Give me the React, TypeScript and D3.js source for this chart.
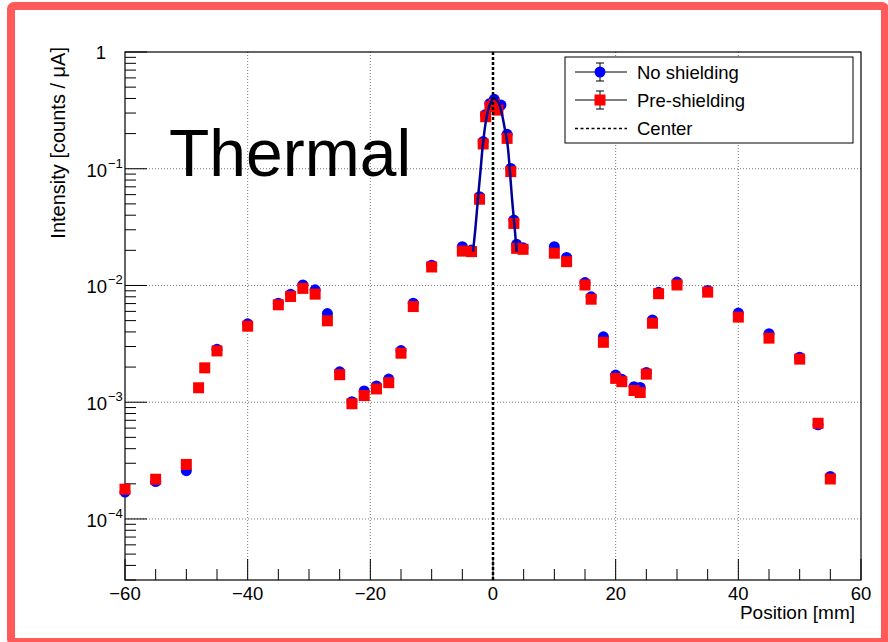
import React, { useEffect, useRef } from 'react';
import * as d3 from 'd3';

// No shielding (blue circles)
const noShieldX = [-60, -55, -50, -45, -40, -35, -33, -31, -29, -27,
  -25, -23, -21, -19, -17, -15, -13, -10, -5, -3.5,
  -2.2, -1.6, -1.2, -0.5, 0.2, 1.3, 2.3, 2.9, 3.4, 3.85,
  4.9, 10, 12, 15, 16, 18, 20, 21, 23, 24,
  25, 26, 27, 30, 35, 40, 45, 50, 53, 55];
const noShieldY = [1.70e-4, 2.09e-4, 2.59e-4, 2.84e-3, 4.69e-3, 7.05e-3, 8.43e-3, 1.01e-2, 9.18e-3, 5.75e-3,
  1.82e-3, 1.01e-3, 1.25e-3, 1.38e-3, 1.58e-3, 2.77e-3, 7.05e-3, 1.49e-2, 2.15e-2, 2.01e-2,
  5.76e-2, 0.171, 0.292, 0.363, 0.393, 0.351, 0.197, 0.1007, 0.0363, 0.0225,
  0.021, 0.0215, 0.0174, 0.0106, 8.0e-3, 3.63e-3, 1.71e-3, 1.57e-3, 1.36e-3, 1.34e-3,
  1.80e-3, 5.07e-3, 8.77e-3, 1.07e-2, 9.06e-3, 5.8e-3, 3.86e-3, 2.43e-3, 6.4e-4, 2.31e-4];

// Pre-shielding (red squares)
const preShieldX = [-60, -55, -50, -48, -47, -45, -40, -35, -33, -31,
  -29, -27, -25, -23, -21, -19, -17, -15, -13, -10,
  -5, -3.5, -2.2, -1.6, -1.2, -0.5, 0.2, 0.8, 2.3, 2.9,
  3.4, 3.85, 4.9, 10, 12, 15, 16, 18, 20, 21,
  23, 24, 25, 26, 27, 30, 35, 40, 45, 50,
  53, 55];
const preShieldY = [1.80e-4, 2.19e-4, 2.93e-4, 1.33e-3, 1.97e-3, 2.75e-3, 4.48e-3, 6.83e-3, 8.05e-3, 9.44e-3,
  8.43e-3, 4.98e-3, 1.72e-3, 9.7e-4, 1.14e-3, 1.30e-3, 1.47e-3, 2.63e-3, 6.6e-3, 1.44e-2,
  1.97e-2, 1.95e-2, 5.48e-2, 0.163, 0.279, 0.340, 0.356, 0.318, 0.182, 0.0944,
  0.034, 0.0208, 0.0204, 0.0189, 0.016, 0.0101, 7.63e-3, 3.26e-3, 1.6e-3, 1.5e-3,
  1.26e-3, 1.21e-3, 1.74e-3, 4.75e-3, 8.5e-3, 1.01e-2, 8.77e-3, 5.36e-3, 3.54e-3, 2.34e-3,
  6.6e-4, 2.2e-4];

// dark blue curve through the peak
const fitX = [-3.26, -2.87, -2.45, -2.05, -1.63, -1.08, -0.54, 0.16, 0.82, 1.37, 1.91, 2.35, 2.72, 3.1, 3.54, 3.86];
const fitY = [0.0195, 0.0308, 0.0557, 0.0944, 0.165, 0.270, 0.351, 0.401, 0.376, 0.308, 0.222, 0.165, 0.101, 0.0557, 0.0308, 0.0195];

const xTicks = [-60, -40, -20, 0, 20, 40, 60];
const xGrid = [-40, -20, 20, 40];
const yDecades = [-4, -3, -2, -1, 0];

const App = () => {
  const svgRef = useRef<SVGSVGElement>(null);

  useEffect(() => {
    const frame = { left: 125, right: 861, top: 52, bottom: 580 };
    const font = 'Liberation Sans, Arial, Helvetica, sans-serif';

    const svg = d3.select(svgRef.current);
    svg.selectAll('*').remove();
    svg.attr('font-family', font);

    const xScale = d3.scaleLinear().domain([-60, 60]).range([frame.left, frame.right]);
    const yScale = d3.scaleLog().domain([3e-5, 1]).range([frame.bottom, frame.top]);

    // outer red border
    svg.append('rect')
      .attr('x', 11).attr('y', 6).attr('width', 874).attr('height', 636)
      .attr('rx', 3)
      .attr('fill', 'white').attr('stroke', '#ff5a5a').attr('stroke-width', 8);

    // grid
    svg.selectAll('.xgrid').data(xGrid).join('line')
      .attr('class', 'xgrid')
      .attr('x1', d => xScale(d)).attr('x2', d => xScale(d))
      .attr('y1', frame.top).attr('y2', frame.bottom)
      .attr('stroke', '#777').attr('stroke-width', 1).attr('stroke-dasharray', '1,2');

    svg.selectAll('.ygrid').data(yDecades.filter(d => d < 0)).join('line')
      .attr('class', 'ygrid')
      .attr('x1', frame.left).attr('x2', frame.right)
      .attr('y1', d => yScale(Math.pow(10, d))).attr('y2', d => yScale(Math.pow(10, d)))
      .attr('stroke', '#777').attr('stroke-width', 1).attr('stroke-dasharray', '1,2');

    // x ticks
    const xMinor = d3.range(-60, 61, 5).filter(d => d % 20 !== 0);
    svg.selectAll('.xmaj').data(xTicks).join('line')
      .attr('class', 'xmaj')
      .attr('x1', d => xScale(d)).attr('x2', d => xScale(d))
      .attr('y1', frame.bottom).attr('y2', frame.bottom - 21)
      .attr('stroke', 'black');
    svg.selectAll('.xmin').data(xMinor).join('line')
      .attr('class', 'xmin')
      .attr('x1', d => xScale(d)).attr('x2', d => xScale(d))
      .attr('y1', frame.bottom).attr('y2', frame.bottom - 11)
      .attr('stroke', 'black');
    svg.selectAll('.xlab').data(xTicks).join('text')
      .attr('class', 'xlab')
      .attr('x', d => xScale(d)).attr('y', 600)
      .attr('text-anchor', 'middle').attr('font-size', 18.5)
      .text(d => (d < 0 ? '\u2212' + Math.abs(d) : String(d)));

    // y ticks
    const yMinor: number[] = [];
    [-5, -4, -3, -2, -1].forEach(e => {
      for (let k = 2; k <= 9; k++) {
        const v = k * Math.pow(10, e);
        if (v >= 3e-5 && v <= 1) yMinor.push(v);
      }
    });
    svg.selectAll('.ymaj').data(yDecades).join('line')
      .attr('class', 'ymaj')
      .attr('x1', frame.left).attr('x2', frame.left + 22)
      .attr('y1', d => yScale(Math.pow(10, d))).attr('y2', d => yScale(Math.pow(10, d)))
      .attr('stroke', 'black');
    svg.selectAll('.ymin').data(yMinor).join('line')
      .attr('class', 'ymin')
      .attr('x1', frame.left).attr('x2', frame.left + 11)
      .attr('y1', d => yScale(d)).attr('y2', d => yScale(d))
      .attr('stroke', 'black');

    const ylab = svg.append('g').attr('font-size', 18.5);
    yDecades.forEach(e => {
      const y = yScale(Math.pow(10, e));
      if (e === 0) {
        ylab.append('text').attr('x', 106).attr('y', y + 6.5).attr('text-anchor', 'end').text('1');
      } else {
        ylab.append('text').attr('x', 107).attr('y', y + 8).attr('text-anchor', 'end').text('10');
        ylab.append('text').attr('x', 108).attr('y', y - 1).attr('font-size', 13).text('\u2212' + Math.abs(e));
      }
    });

    // axis titles
    svg.append('text')
      .attr('x', 855).attr('y', 619).attr('text-anchor', 'end').attr('font-size', 19)
      .text('Position [mm]');
    svg.append('text')
      .attr('transform', 'translate(65,47) rotate(-90)')
      .attr('text-anchor', 'end').attr('font-size', 20)
      .text('Intensity [counts / \u03bcA]');

    // frame
    svg.append('rect')
      .attr('x', frame.left).attr('y', frame.top)
      .attr('width', frame.right - frame.left).attr('height', frame.bottom - frame.top)
      .attr('fill', 'none').attr('stroke', 'black').attr('stroke-width', 1.2);

    // big label
    svg.append('text')
      .attr('x', 169).attr('y', 176).attr('font-size', 66)
      .text('Thermal');

    // markers
    const blue = noShieldX.map((x, i) => ({ x, y: noShieldY[i] }));
    const red = preShieldX.map((x, i) => ({ x, y: preShieldY[i] }));

    svg.selectAll('.blue').data(blue).join('circle')
      .attr('class', 'blue')
      .attr('cx', d => xScale(d.x)).attr('cy', d => yScale(d.y))
      .attr('r', 5.5).attr('fill', '#0000ff');

    svg.selectAll('.red').data(red).join('rect')
      .attr('class', 'red')
      .attr('x', d => xScale(d.x) - 5.5).attr('y', d => yScale(d.y) - 5.5)
      .attr('width', 11).attr('height', 11).attr('fill', '#ff0000');

    // peak curve
    const line = d3.line<number>()
      .x((d, i) => xScale(fitX[i]))
      .y(d => yScale(d))
      .curve(d3.curveCatmullRom);
    svg.append('path')
      .datum(fitY)
      .attr('fill', 'none').attr('stroke', '#000099').attr('stroke-width', 2.5)
      .attr('d', line);

    // center line
    svg.append('line')
      .attr('x1', xScale(0)).attr('x2', xScale(0))
      .attr('y1', frame.bottom).attr('y2', frame.top)
      .attr('stroke', 'black').attr('stroke-width', 2.5).attr('stroke-dasharray', '3,2');

    // legend
    const lg = svg.append('g');
    lg.append('rect')
      .attr('x', 565).attr('y', 57).attr('width', 288).attr('height', 86)
      .attr('fill', 'white').attr('stroke', 'black').attr('stroke-width', 1);
    const rows = [
      { label: 'No shielding', y: 72, kind: 'blue' },
      { label: 'Pre-shielding', y: 100, kind: 'red' },
      { label: 'Center', y: 128.5, kind: 'center' },
    ];
    rows.forEach(r => {
      if (r.kind === 'center') {
        lg.append('line').attr('x1', 575).attr('x2', 627).attr('y1', r.y).attr('y2', r.y)
          .attr('stroke', 'black').attr('stroke-width', 1.5).attr('stroke-dasharray', '3,2.5');
      } else {
        lg.append('line').attr('x1', 575).attr('x2', 627).attr('y1', r.y).attr('y2', r.y)
          .attr('stroke', 'black').attr('stroke-width', 1);
        lg.append('line').attr('x1', 600).attr('x2', 600).attr('y1', r.y - 9).attr('y2', r.y + 9)
          .attr('stroke', 'black').attr('stroke-width', 1);
        [r.y - 9, r.y + 9].forEach(cy => {
          lg.append('line').attr('x1', 596).attr('x2', 604).attr('y1', cy).attr('y2', cy)
            .attr('stroke', 'black').attr('stroke-width', 1);
        });
        if (r.kind === 'blue') {
          lg.append('circle').attr('cx', 600).attr('cy', r.y).attr('r', 5.5).attr('fill', '#0000ff');
        } else {
          lg.append('rect').attr('x', 594.5).attr('y', r.y - 5.5).attr('width', 11).attr('height', 11).attr('fill', '#ff0000');
        }
      }
      lg.append('text').attr('x', 637).attr('y', r.y + 6.5).attr('font-size', 18.5).text(r.label);
    });
  }, []);

  return <svg ref={svgRef} width={888} height={642} style={{ position: 'absolute', left: 0, top: 0 }}></svg>;
};

export default App;
